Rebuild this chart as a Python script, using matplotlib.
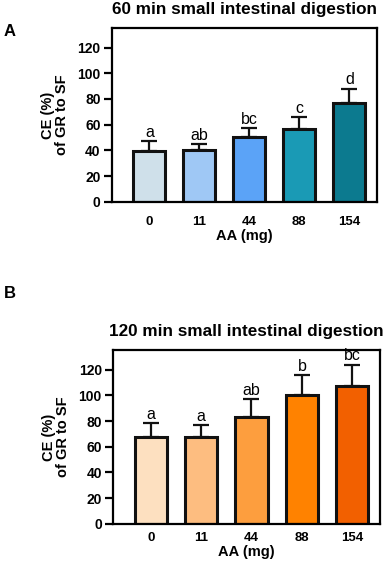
import matplotlib
matplotlib.use('Agg')
import matplotlib.pyplot as plt
import numpy as np

plt.rcParams['font.family'] = ['Liberation Sans', 'DejaVu Sans']

doses = ['0', '11', '44', '88', '154']

# 60 min small intestinal digestion
mean_60 = [39.5, 40.0, 50.1, 56.4, 77.1]
sd_60 = [7.8, 4.7, 7.0, 9.3, 10.9]
letters_60 = ['a', 'ab', 'bc', 'c', 'd']
colors_60 = ['#cfe0ea', '#9fc8f5', '#5ba3f7', '#1a9ab5', '#0c7a8f']

# 120 min small intestinal digestion
mean_120 = [67.2, 67.2, 83.3, 100.3, 107.6]
sd_120 = [10.9, 9.4, 13.6, 15.6, 16.1]
letters_120 = ['a', 'a', 'ab', 'b', 'bc']
colors_120 = ['#fde0c0', '#fdbd80', '#fd9e3e', '#ff8200', '#f26000']

yticks = [0, 20, 40, 60, 80, 100, 120]


def draw_panel(ax, means, sds, letters, colors, title, tpad, lpad):
    x = np.arange(len(doses))
    ax.bar(x, means, width=0.64, color=colors, edgecolor='#111111',
           linewidth=2.2, zorder=2)
    ax.errorbar(x, means, yerr=[np.zeros(len(sds)), sds], fmt='none',
                ecolor='#111111', elinewidth=1.6, capsize=6, capthick=1.6,
                zorder=1)
    for xi, m, s, lab in zip(x, means, sds, letters):
        ax.text(xi, m + s + 1.0, lab, ha='center', va='bottom', fontsize=11.5)
    ax.set_xlim(-0.75, 4.55)
    ax.set_ylim(0, 135)
    ax.set_yticks(yticks)
    ax.set_xticks(x)
    ax.set_xticklabels(doses, fontsize=9.5, fontweight='bold')
    ax.set_yticklabels([str(t) for t in yticks], fontsize=10, fontweight='bold')
    ax.tick_params(axis='x', length=0, pad=tpad)
    ax.tick_params(axis='y', length=6, width=1.6, pad=2)
    for sp in ax.spines.values():
        sp.set_linewidth(1.6)
    ax.set_xlabel('AA (mg)', fontsize=10.5, fontweight='bold', labelpad=lpad)
    ax.set_ylabel('CE (%)\nof GR to SF', fontsize=10.5, fontweight='bold',
                  labelpad=6, linespacing=1.0)
    ax.set_title(title, fontsize=12.3, fontweight='bold', pad=10)


fig = plt.figure(figsize=(3.83, 5.64), dpi=100)
ax1 = fig.add_axes([0.292, 0.642, 0.692, 0.308])
ax2 = fig.add_axes([0.295, 0.071, 0.697, 0.308])

draw_panel(ax1, mean_60, sd_60, letters_60, colors_60,
           '60 min small intestinal digestion', 10, 1)
draw_panel(ax2, mean_120, sd_120, letters_120, colors_120,
           '120 min small intestinal digestion', 6, 0.5)

fig.text(0.01, 0.945, 'A', fontsize=12, fontweight='bold', va='center')
fig.text(0.01, 0.48, 'B', fontsize=12, fontweight='bold', va='center')

fig.savefig('out.png', dpi=100)
